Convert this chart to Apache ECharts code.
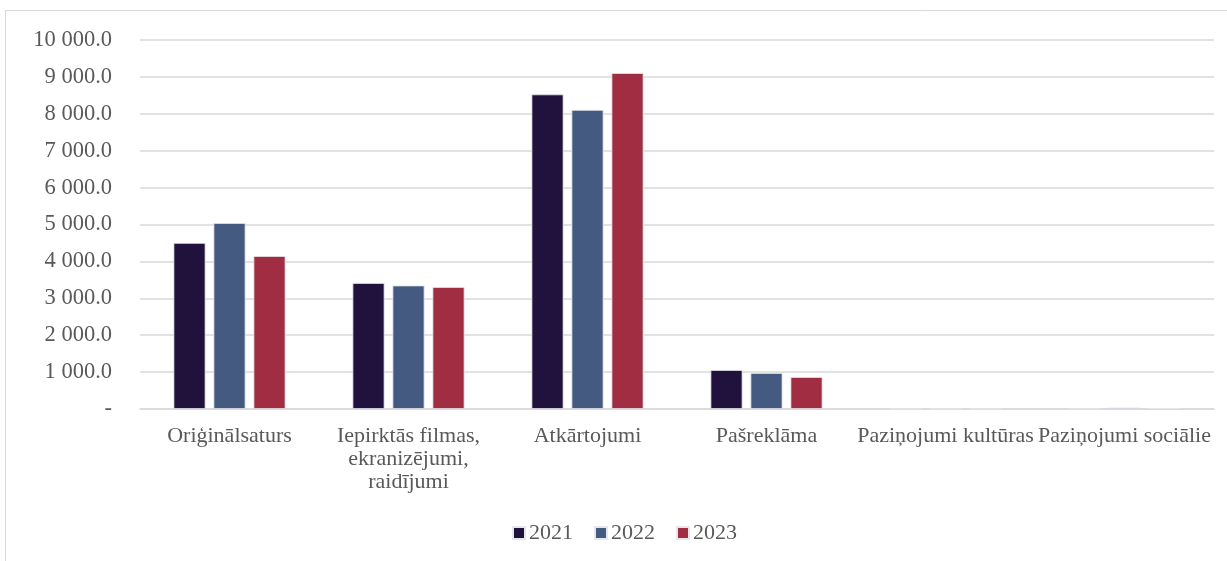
<!DOCTYPE html>
<html>
<head>
<meta charset="utf-8">
<script src="https://cdn.jsdelivr.net/npm/echarts@6/dist/echarts.min.js"></script>
<style>html,body{margin:0;padding:0;background:#fff}#c{width:1227px;height:561px}</style>
</head>
<body>
<div id="c"></div>
<script>
const categories = ['Oriģinālsaturs', 'Iepirktās filmas,\nekranizējumi,\nraidījumi', 'Atkārtojumi', 'Pašreklāma', 'Paziņojumi kultūras', 'Paziņojumi sociālie'];
const seriesNames = ['2021', '2022', '2023'];
const values2021 = [4500, 3415, 8525, 1057, 0, 15];
const values2022 = [5040, 3347, 8105, 976, 0, 40];
const values2023 = [4145, 3306, 9105, 867, 0, 25];
const colors = ['#20123d', '#445a80', '#a02d42'];

function fmt(v) {
  if (v === 0) return '-';
  const s = Math.round(v).toString().replace(/\B(?=(\d{3})+(?!\d))/g, ' ');
  return s + '.0';
}

const chart = echarts.init(document.getElementById('c'));
const data = [values2021, values2022, values2023];
chart.setOption({
  animation: false,
  textStyle: { fontFamily: 'Liberation Serif' },
  graphic: [{
    type: 'rect', shape: { x: 5.5, y: 10.5, width: 1230, height: 560 },
    style: { fill: 'none', stroke: '#d9d9d9', lineWidth: 1 }
  }],
  legend: {
    data: seriesNames, bottom: 12, left: 507,
    icon: 'rect', itemWidth: 12, itemHeight: 12, itemGap: 21,
    textStyle: { fontSize: 22, color: '#595959', fontFamily: 'Liberation Serif', padding: [0, 0, 0, -1] }
  },
  grid: { left: 140, right: 13, top: 40, bottom: 152, containLabel: false },
  xAxis: {
    type: 'category', data: categories,
    axisTick: { show: false },
    axisLine: { lineStyle: { color: '#d9d9d9', width: 1.5 } },
    axisLabel: { interval: 0, color: '#595959', fontSize: 22, margin: 16, lineHeight: 23, fontFamily: 'Liberation Serif' }
  },
  yAxis: {
    type: 'value', min: 0, max: 10000, interval: 1000,
    axisLine: { show: false }, axisTick: { show: false },
    splitLine: { lineStyle: { color: '#d9d9d9', width: 1.5 } },
    axisLabel: { formatter: fmt, color: '#595959', fontSize: 22.5, margin: 28, fontFamily: 'Liberation Serif' }
  },
  series: seriesNames.map((n, i) => ({
    name: n, type: 'bar', data: data[i],
    barWidth: 32, barGap: '25%',
    itemStyle: { color: colors[i], borderColor: '#e6e6ee', borderWidth: 0.8 }
  }))
});
</script>
</body>
</html>
